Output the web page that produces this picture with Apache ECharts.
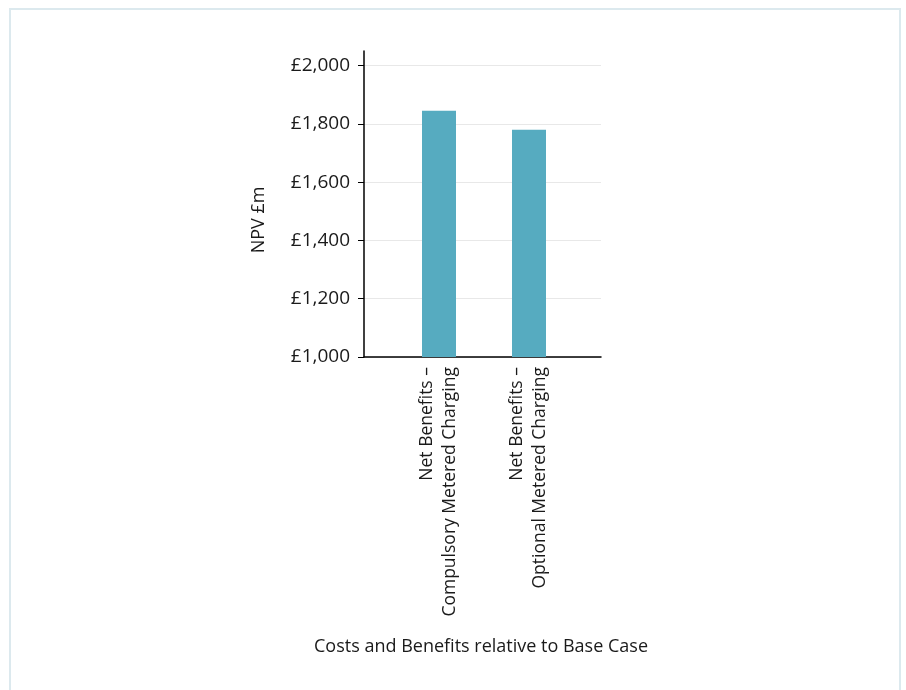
<!DOCTYPE html>
<html>
<head>
<meta charset="utf-8">
<script src="https://cdn.jsdelivr.net/npm/echarts@6/dist/echarts.min.js"></script>
<style>
  html, body { margin: 0; padding: 0; background: #fff; }
  #wrap { position: relative; width: 906px; height: 690px; overflow: hidden; }
  #frame { position: absolute; left: 9px; top: 8px; width: 892px; height: 700px; border: 2px solid #dce9ee; box-sizing: border-box; }
  #chart { position: absolute; left: 0; top: 0; width: 906px; height: 690px; }
</style>
</head>
<body>
<div id="wrap">
  <div id="frame"></div>
  <div id="chart"></div>
</div>
<script>
// 数据
const categories = ['Net Benefits –\nCompulsory Metered Charging', 'Net Benefits –\nOptional Metered Charging'];
const npvValues = [1845, 1780];
const yTicks = [1000, 1200, 1400, 1600, 1800, 2000];

const font = '"Open Sans", "Noto Sans", sans-serif';
const txt = '#1a1a1a';

const chart = echarts.init(document.getElementById('chart'));

const optionData = {
  animation: false,
  textStyle: { fontFamily: font },
  grid: [
    // 坐标框
    { left: 364, top: 51, width: 237, height: 306 },
    // 柱子
    { left: 394, top: 51, width: 180, height: 306 }
  ],
  xAxis: [
    {
      gridIndex: 0,
      type: 'value',
      min: 0,
      max: 1,
      axisLine: { show: true, lineStyle: { color: '#000', width: 1.5 } },
      axisTick: { show: false },
      axisLabel: { show: false },
      splitLine: { show: false }
    },
    {
      gridIndex: 1,
      type: 'category',
      data: categories,
      axisLine: { show: false },
      axisTick: { show: false },
      axisLabel: {
        rotate: 90,
        margin: 10,
        color: txt,
        fontSize: 17.5,
        lineHeight: 23,
        fontFamily: font
      },
      name: 'Costs and Benefits relative to Base Case',
      nameLocation: 'middle',
      nameGap: 281,
      nameTextStyle: { color: txt, fontSize: 18, fontFamily: font, padding: [0, 6, 0, 0] }
    }
  ],
  yAxis: [
    {
      gridIndex: 0,
      type: 'value',
      min: yTicks[0],
      max: 2050,
      interval: 200,
      axisLine: { show: true, lineStyle: { color: '#000', width: 1.5 } },
      axisTick: { show: true, length: 6, lineStyle: { color: '#000' } },
      axisLabel: {
        showMaxLabel: false,
        margin: 14,
        color: txt,
        fontSize: 19,
        fontFamily: font,
        formatter: v => '£' + v.toLocaleString('en-GB')
      },
      splitLine: { show: true, showMaxLine: false, lineStyle: { color: '#e8e8e8' } },
      name: 'NPV £m',
      nameLocation: 'middle',
      nameGap: 96,
      nameRotate: 90,
      nameTextStyle: { color: txt, fontSize: 18, fontFamily: font, padding: [0, 32, 0, 0] }
    },
    {
      gridIndex: 1,
      type: 'value',
      min: yTicks[0],
      max: 2050,
      show: false
    }
  ],
  series: [
    {
      type: 'bar',
      xAxisIndex: 1,
      yAxisIndex: 1,
      data: npvValues,
      barWidth: 34,
      itemStyle: { color: '#56abc0' }
    }
  ]
};
chart.setOption(optionData);
</script>
</body>
</html>
